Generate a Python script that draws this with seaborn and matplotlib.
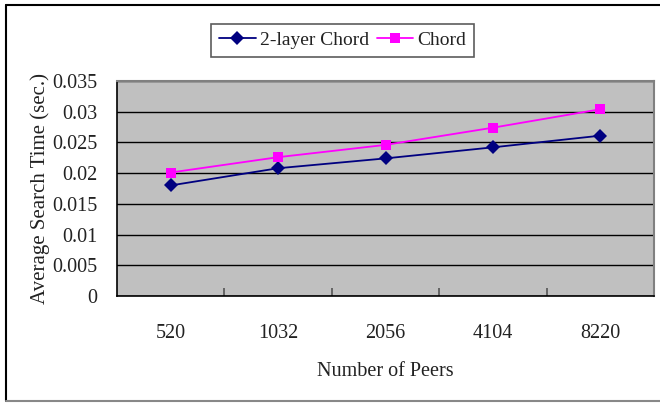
import matplotlib
matplotlib.use("Agg")
import matplotlib.pyplot as plt
import seaborn as sns
import pandas as pd
from matplotlib.lines import Line2D
from matplotlib.ticker import MultipleLocator, FixedLocator, FuncFormatter

peers = ["520", "1032", "2056", "4104", "8220"]
two_layer = [0.0180, 0.0208, 0.0224, 0.0242, 0.0261]
chord = [0.0201, 0.0226, 0.0246, 0.0274, 0.0304]
series_names = ["2-layer Chord", "Chord"]

df = pd.DataFrame({
    "peers": peers * 2,
    "time": two_layer + chord,
    "series": [series_names[0]] * len(peers) + [series_names[1]] * len(peers),
})

sns.set_theme(style="white")
plt.rcParams["font.family"] = ["Liberation Serif", "DejaVu Serif"]

W, H = 660, 403
fig = plt.figure(figsize=(W / 100, H / 100), dpi=100)
ax = fig.add_axes([117 / W, 1 - 296 / H, (654 - 117) / W, (296 - 81) / H])
ax.set_facecolor("#C0C0C0")

sns.lineplot(data=df, x="peers", y="time", hue="series", style="series",
             palette={"2-layer Chord": "#000080", "Chord": "#FF00FF"},
             markers={"2-layer Chord": "D", "Chord": "s"},
             dashes={"2-layer Chord": "", "Chord": ""},
             markersize=7, markeredgewidth=0, linewidth=1.3, ax=ax, legend=True)

ax.set_xlim(-0.5, 4.5)
ax.set_ylim(0, 0.035)
ax.yaxis.set_major_locator(MultipleLocator(0.005))
ax.yaxis.set_major_formatter(FuncFormatter(lambda v, p: ("%.3f" % v).rstrip("0").rstrip(".") if v != 0 else "0"))
ax.grid(axis="y", color="black", linewidth=1.0)
ax.grid(axis="x", visible=False)
ax.set_axisbelow(True)

ax.xaxis.set_minor_locator(FixedLocator([0.5, 1.5, 2.5, 3.5]))
ax.tick_params(axis="x", which="major", length=0, pad=20, labelsize=14.5, colors="#222222")
ax.tick_params(axis="x", which="minor", length=6, width=1.2, direction="in", color="#555555", bottom=True)
ax.tick_params(axis="y", which="major", length=0, pad=14, labelsize=14.5, colors="#222222")

for s in ["top", "right"]:
    ax.spines[s].set_color("#808080")
    ax.spines[s].set_linewidth(1.5)
for s in ["left", "bottom"]:
    ax.spines[s].set_color("black")
    ax.spines[s].set_linewidth(1.2)

ax.set_xlabel("Number of Peers", fontsize=14.5, color="#222222", labelpad=14)
ax.set_ylabel("Average Search Time (sec.)", fontsize=15, color="#222222", labelpad=2)

handles, labels = ax.get_legend_handles_labels()
ax.get_legend().remove()
leg = fig.legend(handles, labels, loc="center", bbox_to_anchor=(342.5 / W, 1 - 40.5 / H),
                 ncol=2, frameon=True, fancybox=False, fontsize=14, handlelength=1.9,
                 handletextpad=0.2, columnspacing=0.4, borderpad=0.4, borderaxespad=0)
leg.get_frame().set_edgecolor("#333333")
leg.get_frame().set_linewidth(1.2)
for t in leg.get_texts():
    t.set_color("#222222")

# outer chart frame
fig.add_artist(Line2D([6 / W, 1.0], [1 - 5 / H, 1 - 5 / H], color="black", linewidth=1.5))
fig.add_artist(Line2D([6 / W, 6 / W], [1 - 5 / H, 1 - 401 / H], color="black", linewidth=1.5))
fig.add_artist(Line2D([6 / W, 1.0], [1 - 401 / H, 1 - 401 / H], color="#888888", linewidth=1.5))

fig.savefig("out.png", dpi=100, facecolor="white")
